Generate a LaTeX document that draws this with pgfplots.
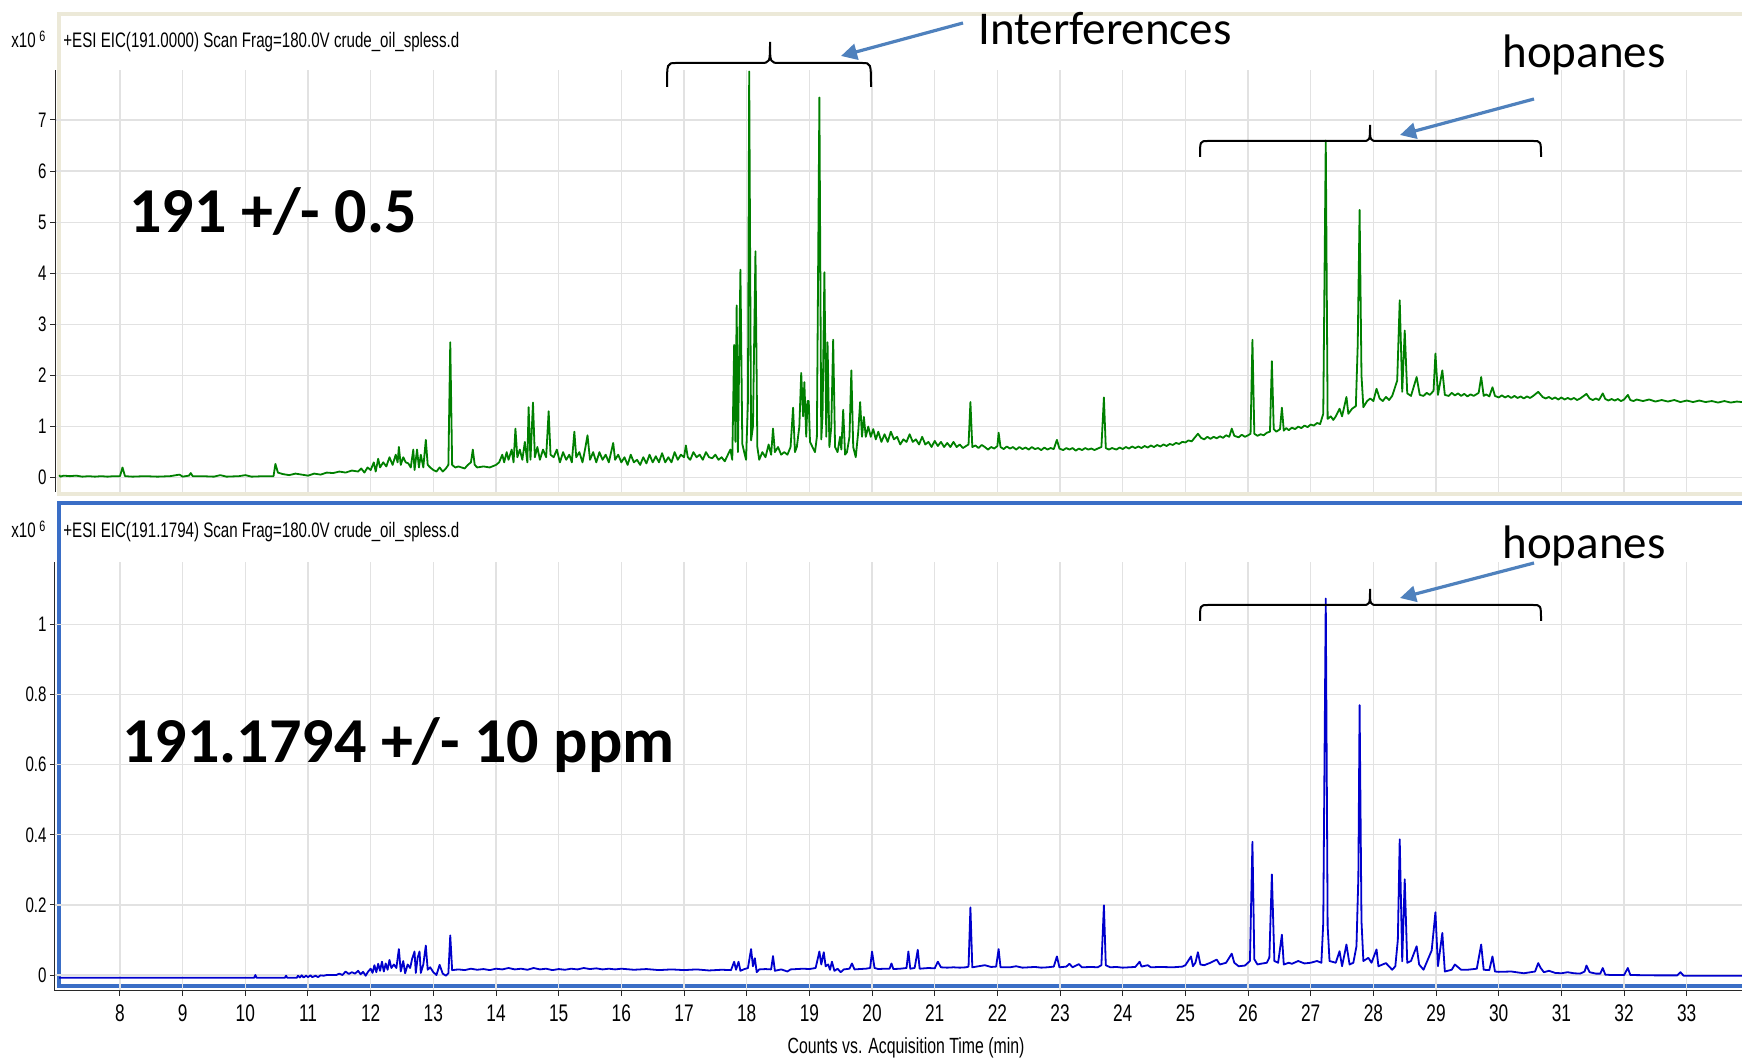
\documentclass[border=0pt]{standalone}
\usepackage{fontspec}
\usepackage{pgfplots}
\pgfplotsset{compat=1.18}
\usetikzlibrary{arrows.meta}
\newfontfamily\narrowfont[FakeStretch=0.72]{Liberation Sans}
\newfontfamily\calibri{Carlito}
\definecolor{trgreen}{RGB}{0,128,0}
\definecolor{trblue}{RGB}{0,0,205}
\definecolor{gridgray}{RGB}{226,226,226}
\definecolor{beige}{RGB}{236,233,216}
\definecolor{frameblue}{RGB}{58,110,198}
\definecolor{arrowblue}{RGB}{79,129,189}
\definecolor{axisgray}{RGB}{40,40,40}
\begin{document}
\begin{tikzpicture}
\useasboundingbox (0,0) rectangle (871pt,530.5pt);
% panel frames
\draw[beige, line width=2pt] (29.5pt,283.5pt) rectangle (880pt,523.5pt);
\draw[frameblue, line width=2pt] (29.25pt,37.5pt) rectangle (880pt,278.75pt);

\pgfplotsset{
  chrom/.style={
    anchor=south west, x=31.335pt,
    xmin=6.963, xmax=33.89,
    axis lines*=left,
    xtick={8,...,33},
    grid=major,
    major grid style={draw=gridgray, line width=0.6pt},
    tick align=outside, major tick length=2.5pt,
    tick style={draw=axisgray, line width=0.5pt},
    axis line style={draw=axisgray, line width=0.5pt},
    /pgf/number format/assume math mode=true,
    yticklabel style={font=\narrowfont\fontsize{10.5}{12}\selectfont, inner sep=1.5pt},
    xticklabel style={font=\narrowfont\fontsize{12}{14}\selectfont},
  }
}

% top panel
\begin{axis}[chrom,
  at={(27.5pt,284.5pt)}, y=25.55pt,
  ymin=-0.28, ymax=7.978,
  ytick={0,...,7},
  x axis line style={draw=none},
  xtick style={draw=none},
  xticklabels={},
]
\addplot[trgreen, line width=0.9pt, line join=round] coordinates {
(7.03,0.05) (7.05,0.02) (7.1,0.04) (7.2,0.03) (7.3,0.04) (7.4,0.02) (7.5,0.03) (7.6,0.02) (7.7,0.03) (7.8,0.02) (7.9,0.03) (8.0,0.03)
(8.04,0.2) (8.08,0.03) (8.2,0.02) (8.4,0.03) (8.6,0.02) (8.8,0.03) (8.95,0.06) (9.0,0.02) (9.1,0.04) (9.13,0.09) (9.16,0.03)
(9.3,0.03) (9.5,0.02) (9.6,0.05) (9.7,0.02) (9.9,0.03) (10.0,0.05) (10.1,0.02) (10.3,0.03) (10.45,0.03) (10.48,0.27) (10.52,0.1)
(10.6,0.07) (10.7,0.05) (10.8,0.08) (10.9,0.06) (11.0,0.04) (11.1,0.08) (11.2,0.06) (11.3,0.1) (11.4,0.09) (11.5,0.12) (11.6,0.1)
(11.7,0.14) (11.8,0.12) (11.85,0.18) (11.9,0.1) (11.95,0.2) (12.0,0.15) (12.05,0.3) (12.08,0.12) (12.12,0.37) (12.15,0.2)
(12.2,0.3) (12.25,0.22) (12.3,0.4) (12.35,0.25) (12.4,0.45) (12.43,0.3) (12.45,0.6) (12.48,0.25) (12.52,0.4) (12.56,0.3)
(12.6,0.28) (12.64,0.2) (12.68,0.55) (12.7,0.15) (12.74,0.55) (12.77,0.2) (12.8,0.45) (12.84,0.2) (12.88,0.74) (12.91,0.25)
(12.95,0.2) (13.0,0.15) (13.05,0.12) (13.1,0.2) (13.15,0.12) (13.2,0.18) (13.24,0.25) (13.27,2.65) (13.3,0.25) (13.35,0.2)
(13.4,0.22) (13.5,0.18) (13.55,0.25) (13.6,0.3) (13.63,0.55) (13.66,0.25) (13.7,0.2) (13.8,0.22) (13.9,0.2) (14.0,0.25)
(14.05,0.3) (14.1,0.45) (14.13,0.3) (14.17,0.5) (14.2,0.35) (14.25,0.55) (14.28,0.3) (14.31,0.96) (14.34,0.4) (14.38,0.55)
(14.42,0.35) (14.46,0.7) (14.5,0.3) (14.52,1.38) (14.55,0.35) (14.59,1.47) (14.62,0.4) (14.66,0.6) (14.7,0.35) (14.75,0.55)
(14.8,0.4) (14.84,1.3) (14.87,0.45) (14.92,0.4) (14.97,0.55) (15.02,0.3) (15.07,0.5) (15.12,0.35) (15.17,0.45) (15.21,0.3)
(15.25,0.9) (15.28,0.4) (15.33,0.5) (15.38,0.3) (15.42,0.55) (15.46,0.83) (15.5,0.35) (15.55,0.5) (15.6,0.3) (15.65,0.5)
(15.7,0.35) (15.75,0.45) (15.8,0.3) (15.87,0.68) (15.9,0.35) (15.95,0.45) (16.0,0.3) (16.05,0.4) (16.1,0.25) (16.15,0.45)
(16.2,0.3) (16.25,0.35) (16.3,0.25) (16.35,0.4) (16.4,0.28) (16.45,0.45) (16.5,0.3) (16.55,0.42) (16.6,0.3) (16.65,0.48)
(16.7,0.3) (16.75,0.4) (16.8,0.3) (16.85,0.5) (16.9,0.35) (16.95,0.45) (17.0,0.4) (17.03,0.63) (17.06,0.4) (17.1,0.35)
(17.15,0.5) (17.2,0.4) (17.25,0.45) (17.3,0.35) (17.35,0.5) (17.4,0.4) (17.45,0.38) (17.5,0.45) (17.55,0.35) (17.6,0.4)
(17.65,0.32) (17.7,0.45) (17.74,0.55) (17.77,0.35) (17.8,2.6) (17.82,0.7) (17.84,3.37) (17.86,0.5) (17.9,4.07) (17.93,0.66)
(17.96,0.5) (17.99,0.35) (18.02,1.5) (18.04,7.95) (18.07,0.73) (18.1,1.0) (18.14,4.43) (18.17,0.6) (18.2,0.35) (18.25,0.5)
(18.3,0.4) (18.35,0.65) (18.39,0.45) (18.42,0.96) (18.45,0.5) (18.5,0.6) (18.55,0.45) (18.6,0.5) (18.65,0.45) (18.7,0.6)
(18.74,1.37) (18.77,0.5) (18.8,0.6) (18.84,1.0) (18.87,2.05) (18.9,1.2) (18.92,1.87) (18.95,0.8) (18.97,1.5) (18.99,1.5)
(19.01,0.7) (19.05,0.6) (19.09,0.5) (19.12,0.8) (19.16,7.44) (19.19,0.75) (19.21,1.2) (19.24,4.02) (19.27,0.8) (19.29,2.65)
(19.32,0.6) (19.35,1.0) (19.38,2.7) (19.41,0.6) (19.45,0.5) (19.49,0.8) (19.51,0.55) (19.54,1.33) (19.57,0.45) (19.6,0.5)
(19.64,0.8) (19.67,2.1) (19.7,0.6) (19.74,0.4) (19.78,0.9) (19.81,1.48) (19.84,0.8) (19.87,1.19) (19.9,0.8) (19.94,1.0)
(19.98,0.8) (20.02,0.95) (20.06,0.75) (20.1,0.9) (20.15,0.7) (20.2,0.85) (20.25,0.7) (20.3,0.9) (20.35,0.75) (20.4,0.8)
(20.45,0.65) (20.5,0.75) (20.55,0.7) (20.6,0.85) (20.65,0.7) (20.7,0.75) (20.75,0.65) (20.8,0.8) (20.85,0.65) (20.9,0.7)
(20.95,0.6) (21.0,0.72) (21.05,0.62) (21.1,0.7) (21.15,0.6) (21.2,0.68) (21.25,0.6) (21.3,0.7) (21.35,0.6) (21.4,0.65)
(21.45,0.58) (21.5,0.62) (21.54,0.65) (21.57,1.48) (21.6,0.6) (21.65,0.63) (21.7,0.58) (21.75,0.64) (21.8,0.6) (21.85,0.55) (21.9,0.6) (21.95,0.57)
(22.0,0.62) (22.02,0.88) (22.05,0.6) (22.1,0.56) (22.15,0.61) (22.2,0.57) (22.25,0.6) (22.3,0.55) (22.35,0.6) (22.4,0.56) (22.45,0.59) (22.5,0.55) (22.55,0.6) (22.6,0.56) (22.65,0.58) (22.7,0.54)
(22.75,0.59) (22.8,0.55) (22.85,0.58) (22.9,0.56) (22.95,0.74) (22.99,0.57) (23.05,0.54) (23.1,0.58) (23.15,0.55) (23.2,0.58) (23.25,0.53) (23.3,0.57) (23.35,0.54) (23.4,0.58) (23.45,0.55) (23.5,0.57) (23.55,0.54) (23.6,0.57)
(23.66,0.6) (23.7,1.57) (23.73,0.58) (23.78,0.55) (23.83,0.58) (23.9,0.55) (23.95,0.59) (24.0,0.56) (24.05,0.6) (24.1,0.57) (24.15,0.61) (24.2,0.58) (24.25,0.61) (24.3,0.58) (24.35,0.62) (24.4,0.59)
(24.45,0.63) (24.5,0.6) (24.55,0.64) (24.6,0.61) (24.65,0.65) (24.7,0.62) (24.75,0.66) (24.8,0.64) (24.85,0.68) (24.9,0.66) (24.95,0.7) (25.0,0.69) (25.05,0.73) (25.1,0.71) (25.2,0.86) (25.25,0.78) (25.3,0.75)
(25.35,0.8) (25.4,0.76) (25.45,0.8) (25.5,0.77) (25.55,0.81) (25.6,0.78) (25.65,0.83) (25.7,0.8) (25.74,0.96) (25.78,0.82) (25.85,0.79) (25.9,0.84) (25.95,0.8) (26.0,0.83) (26.04,0.86)
(26.07,2.7) (26.1,0.86) (26.15,0.82) (26.2,0.85) (26.25,0.83) (26.3,0.88) (26.35,0.9) (26.38,2.28) (26.41,0.95) (26.45,0.9) (26.51,0.95)
(26.54,1.37) (26.57,0.92) (26.61,0.97) (26.65,0.93) (26.7,0.98) (26.75,0.95) (26.8,1.0) (26.85,0.97) (26.9,1.02) (26.95,0.99) (27.0,1.04) (27.05,1.02) (27.1,1.07) (27.15,1.05) (27.2,1.25) (27.24,6.6)
(27.27,1.15) (27.32,1.2) (27.36,1.13) (27.4,1.2) (27.46,1.35) (27.5,1.2) (27.57,1.58) (27.6,1.25) (27.66,1.35) (27.72,1.4) (27.75,2.6)
(27.78,5.24) (27.81,2.0) (27.84,1.38) (27.9,1.5) (27.95,1.55) (28.0,1.5) (28.05,1.74) (28.1,1.55) (28.15,1.5) (28.2,1.58) (28.25,1.52) (28.3,1.6)
(28.38,1.9) (28.42,3.47) (28.46,1.68) (28.5,2.88) (28.54,1.65) (28.6,1.6) (28.69,1.97) (28.74,1.62) (28.8,1.6) (28.85,1.66) (28.9,1.62)
(28.96,1.7) (28.99,2.43) (29.03,1.62) (29.1,2.1) (29.14,1.62) (29.2,1.6) (29.25,1.66) (29.3,1.61) (29.35,1.65) (29.4,1.6) (29.45,1.64) (29.5,1.59) (29.55,1.63) (29.6,1.6)
(29.68,1.66) (29.72,1.97) (29.76,1.6) (29.8,1.63) (29.85,1.59) (29.9,1.77) (29.94,1.6) (30.0,1.57) (30.05,1.61) (30.1,1.57) (30.15,1.6) (30.2,1.56) (30.25,1.6) (30.3,1.56)
(30.35,1.59) (30.4,1.55) (30.45,1.59) (30.5,1.56) (30.55,1.6) (30.63,1.68) (30.7,1.58) (30.75,1.55) (30.8,1.58) (30.85,1.54) (30.9,1.57) (30.95,1.53) (31.0,1.57) (31.05,1.53) (31.1,1.56) (31.15,1.53) (31.2,1.56) (31.25,1.52) (31.3,1.55)
(31.4,1.64) (31.45,1.55) (31.5,1.52) (31.55,1.55) (31.6,1.52) (31.66,1.65) (31.7,1.54) (31.75,1.51) (31.8,1.54) (31.85,1.51) (31.9,1.54) (31.95,1.5) (32.0,1.53) (32.06,1.62) (32.1,1.52)
(32.15,1.5) (32.2,1.53) (32.3,1.5) (32.4,1.53) (32.5,1.49) (32.6,1.52) (32.7,1.49) (32.8,1.52) (32.9,1.48) (33.0,1.51) (33.1,1.48) (33.2,1.51) (33.3,1.48) (33.4,1.5) (33.5,1.47) (33.6,1.5) (33.7,1.47) (33.8,1.49) (33.88,1.48)
};
\end{axis}

% bottom panel
\begin{axis}[chrom,
  at={(27.5pt,35pt)}, y=175.25pt,
  ymin=-0.0456, ymax=1.1783,
  ytick={0,0.2,0.4,0.6,0.8,1},
  xticklabel style={yshift=-1pt},
]
\addplot[trblue, line width=0.9pt, line join=round] coordinates {
(7.03,-0.008) (10.14,-0.008) (10.16,0.0) (10.18,-0.008) (10.63,-0.008) (10.65,-0.002) (10.67,-0.008) (10.82,-0.008)
(10.84,-0.002) (10.87,-0.007) (10.9,-0.001) (10.93,-0.007) (10.97,-0.002) (11.0,-0.006) (11.04,-0.001) (11.07,-0.006)
(11.12,-0.002) (11.16,-0.006) (11.2,-0.001) (11.25,-0.002) (11.3,0.0) (11.45,0.0) (11.5,0.004) (11.55,0.0) (11.6,0.01)
(11.65,0.003) (11.7,0.008) (11.75,0.004) (11.8,0.012) (11.84,0.002) (11.88,0.009) (11.92,-0.002) (11.96,0.01) (12.0,0.018)
(12.03,0.006) (12.06,0.028) (12.09,0.008) (12.12,0.032) (12.15,0.012) (12.18,0.038) (12.21,0.01) (12.24,0.033) (12.27,0.015)
(12.3,0.043) (12.33,0.02) (12.37,0.03) (12.41,0.02) (12.45,0.074) (12.48,0.01) (12.52,0.04) (12.55,0.005) (12.59,0.03)
(12.63,0.02) (12.66,0.045) (12.7,0.067) (12.72,0.006) (12.75,0.05) (12.78,0.067) (12.8,0.006) (12.84,0.03) (12.88,0.084)
(12.91,0.015) (12.95,0.022) (13.0,0.008) (13.05,0.0) (13.1,0.029) (13.15,0.004) (13.2,-0.002) (13.24,0.005) (13.27,0.113)
(13.3,0.014) (13.4,0.016) (13.5,0.014) (13.6,0.018) (13.7,0.015) (13.8,0.017) (13.9,0.014) (14.0,0.018) (14.1,0.016)
(14.2,0.02) (14.3,0.016) (14.4,0.018) (14.5,0.015) (14.6,0.02) (14.7,0.016) (14.8,0.018) (14.9,0.014) (15.0,0.017)
(15.1,0.015) (15.2,0.018) (15.3,0.016) (15.4,0.02) (15.5,0.017) (15.6,0.019) (15.7,0.016) (15.8,0.018) (15.9,0.016)
(16.0,0.018) (16.2,0.015) (16.4,0.017) (16.6,0.014) (16.8,0.016) (17.0,0.014) (17.2,0.016) (17.4,0.013) (17.6,0.015)
(17.75,0.014) (17.8,0.038) (17.83,0.015) (17.87,0.038) (17.9,0.012) (17.95,0.016) (18.02,0.02) (18.07,0.074) (18.1,0.025)
(18.13,0.048) (18.16,0.008) (18.2,0.016) (18.3,0.017) (18.39,0.016) (18.42,0.054) (18.45,0.012) (18.55,0.016) (18.65,0.01)
(18.7,0.016) (18.8,0.017) (18.9,0.018) (19.0,0.017) (19.1,0.02) (19.16,0.067) (19.19,0.03) (19.23,0.065) (19.26,0.025)
(19.3,0.03) (19.33,0.015) (19.36,0.038) (19.4,0.012) (19.45,0.018) (19.5,0.008) (19.55,0.016) (19.64,0.018) (19.68,0.033)
(19.72,0.016) (19.8,0.017) (19.9,0.018) (19.97,0.02) (20.0,0.067) (20.04,0.02) (20.1,0.017) (20.2,0.018) (20.28,0.018)
(20.31,0.033) (20.34,0.017) (20.45,0.018) (20.55,0.02) (20.58,0.067) (20.61,0.018) (20.68,0.02) (20.73,0.072) (20.76,0.018)
(20.9,0.02) (21.0,0.019) (21.05,0.038) (21.1,0.022) (21.2,0.021) (21.3,0.022) (21.4,0.021) (21.5,0.022) (21.54,0.024)
(21.57,0.193) (21.6,0.022) (21.7,0.025) (21.8,0.028) (21.9,0.023) (21.98,0.024) (22.02,0.074) (22.05,0.022) (22.2,0.022)
(22.3,0.025) (22.4,0.021) (22.5,0.022) (22.6,0.023) (22.7,0.021) (22.8,0.022) (22.9,0.024) (22.95,0.053) (22.99,0.022)
(23.1,0.024) (23.15,0.032) (23.2,0.022) (23.3,0.031) (23.35,0.022) (23.5,0.023) (23.6,0.022) (23.66,0.028) (23.7,0.199)
(23.73,0.028) (23.8,0.022) (23.9,0.023) (24.0,0.021) (24.1,0.022) (24.2,0.023) (24.27,0.038) (24.3,0.024) (24.4,0.028)
(24.45,0.022) (24.6,0.023) (24.8,0.022) (24.95,0.024) (25.0,0.028) (25.09,0.053) (25.12,0.025) (25.16,0.035) (25.2,0.065)
(25.24,0.03) (25.3,0.028) (25.4,0.035) (25.5,0.044) (25.55,0.03) (25.65,0.035) (25.74,0.061) (25.78,0.035) (25.85,0.025)
(25.95,0.027) (26.03,0.04) (26.07,0.38) (26.1,0.045) (26.15,0.03) (26.2,0.032) (26.3,0.035) (26.34,0.05) (26.38,0.287)
(26.42,0.04) (26.48,0.035) (26.54,0.115) (26.57,0.03) (26.65,0.035) (26.7,0.032) (26.8,0.04) (26.9,0.033) (27.0,0.035)
(27.1,0.04) (27.17,0.035) (27.2,0.149) (27.24,1.074) (27.27,0.14) (27.3,0.04) (27.4,0.035) (27.46,0.068) (27.5,0.025)
(27.57,0.087) (27.62,0.03) (27.68,0.035) (27.73,0.082) (27.76,0.28) (27.78,0.77) (27.81,0.154) (27.84,0.04) (27.92,0.049)
(27.97,0.035) (28.05,0.073) (28.08,0.025) (28.2,0.034) (28.3,0.015) (28.35,0.025) (28.39,0.1) (28.42,0.387) (28.46,0.039)
(28.5,0.273) (28.54,0.035) (28.6,0.04) (28.69,0.082) (28.73,0.03) (28.8,0.015) (28.93,0.07) (28.99,0.179) (29.03,0.025)
(29.1,0.12) (29.14,0.01) (29.25,0.015) (29.3,0.03) (29.4,0.015) (29.5,0.015) (29.65,0.018) (29.72,0.087) (29.76,0.015)
(29.85,0.014) (29.9,0.053) (29.94,0.01) (30.0,0.009) (30.2,0.01) (30.4,0.005) (30.58,0.01) (30.63,0.034) (30.67,0.02)
(30.72,0.008) (30.8,0.012) (30.9,0.006) (31.0,0.005) (31.1,0.008) (31.2,0.005) (31.3,0.004) (31.37,0.01) (31.4,0.027)
(31.45,0.008) (31.55,0.004) (31.62,0.004) (31.66,0.02) (31.7,0.001) (31.8,0.0) (32.0,0.0) (32.06,0.02) (32.1,0.0)
(32.5,-0.001) (32.85,-0.001) (32.9,0.008) (32.95,-0.002) (33.88,-0.002)
};
\end{axis}

% titles
\node[anchor=base west, inner sep=0, font=\narrowfont\fontsize{10.5}{12}\selectfont] at (31.5pt,506.5pt) {+ESI EIC(191.0000) Scan Frag=180.0V crude\_oil\_spless.d};
\node[anchor=base west, inner sep=0, font=\narrowfont\fontsize{10.5}{12}\selectfont] at (31.5pt,261.5pt) {+ESI EIC(191.1794) Scan Frag=180.0V crude\_oil\_spless.d};
\node[anchor=base west, inner sep=0, font=\narrowfont\fontsize{10.5}{12}\selectfont] at (5.5pt,506.5pt) {x10\,\raisebox{0.55ex}{\fontsize{7.5}{8}\selectfont 6}};
\node[anchor=base west, inner sep=0, font=\narrowfont\fontsize{10.5}{12}\selectfont] at (5.5pt,261.5pt) {x10\,\raisebox{0.55ex}{\fontsize{7.5}{8}\selectfont 6}};
\node[anchor=base, inner sep=0, font=\narrowfont\fontsize{11}{13}\selectfont] at (453pt,3.5pt) {Counts vs. Acquisition Time (min)};

% big labels
\node[anchor=base west, inner sep=0, font=\calibri\bfseries\fontsize{32}{36}\selectfont] at (64.5pt,414.2pt) {191 +/- 0.5};
\node[anchor=base west, inner sep=0, font=\calibri\bfseries\fontsize{32}{36}\selectfont] at (61pt,149.2pt) {191.1794 +/- 10 ppm};

% annotations
\node[anchor=base west, inner sep=0, font=\calibri\fontsize{23.5}{26}\selectfont] at (489pt,508pt) {Interferences};
\node[anchor=base west, inner sep=0, font=\calibri\fontsize{23.5}{26}\selectfont] at (751pt,496.5pt) {hopanes};
\node[anchor=base west, inner sep=0, font=\calibri\fontsize{23.5}{26}\selectfont] at (751pt,251pt) {hopanes};

\draw[line width=1pt] (333.5pt,487pt) .. controls (333.5pt,499pt) .. (338pt,499pt) -- (380pt,499pt)
  .. controls (385pt,499pt) .. (385pt,509.5pt) .. controls (385pt,499pt) .. (390pt,499pt) -- (431pt,499pt)
  .. controls (435.5pt,499pt) .. (435.5pt,487pt);
\draw[line width=1pt] (600pt,452pt) .. controls (600pt,460pt) .. (604pt,460pt) -- (681pt,460pt)
  .. controls (685pt,460pt) .. (685pt,468pt) .. controls (685pt,460pt) .. (689pt,460pt) -- (766.5pt,460pt)
  .. controls (770.5pt,460pt) .. (770.5pt,452pt);
\draw[line width=1pt] (600pt,220pt) .. controls (600pt,228pt) .. (604pt,228pt) -- (681pt,228pt)
  .. controls (685pt,228pt) .. (685pt,236pt) .. controls (685pt,228pt) .. (689pt,228pt) -- (766.5pt,228pt)
  .. controls (770.5pt,228pt) .. (770.5pt,220pt);

\draw[arrowblue, line width=1.6pt, -{Triangle[length=8pt,width=8pt]}] (481.5pt,519pt) -- (420.5pt,502.5pt);
\draw[arrowblue, line width=1.6pt, -{Triangle[length=8pt,width=8pt]}] (767pt,481pt) -- (700pt,463pt);
\draw[arrowblue, line width=1.6pt, -{Triangle[length=8pt,width=8pt]}] (767pt,249pt) -- (700pt,231.5pt);
\end{tikzpicture}
\end{document}
